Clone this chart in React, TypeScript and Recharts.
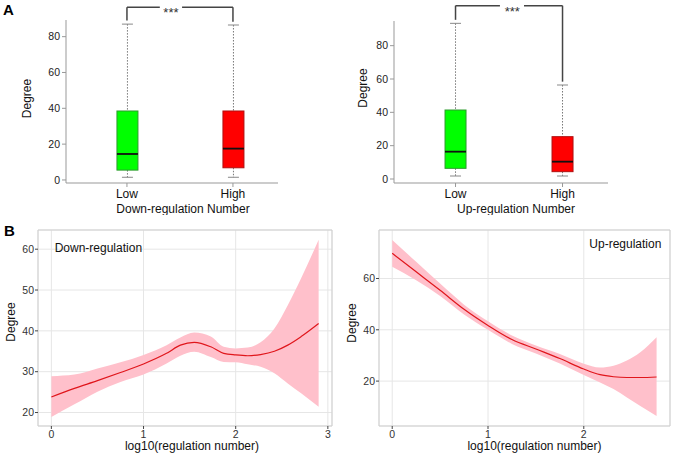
import React from "react";
import {
    ComposedChart,
    Bar,
    Line,
    Area,
    XAxis,
    YAxis,
    CartesianGrid,
    ReferenceLine,
    ReferenceDot,
} from "recharts";

const FONT = '"Liberation Sans", Arial, Helvetica, sans-serif';

// ---- Panel A: box plots ----
const boxGroups = ["Low", "High"];
const boxPositions = [1, 2];

const downMin = [1.5, 1.5];
const downQ1 = [5.5, 6.8];
const downMedian = [14.5, 17.5];
const downQ3 = [38.5, 38.5];
const downMax = [87, 86.5];

const upMin = [1.8, 1.8];
const upQ1 = [6.4, 4.4];
const upMedian = [16.4, 10.4];
const upQ3 = [41.4, 25.4];
const upMax = [93.4, 56.4];

const boxFills = ["#00ff00", "#ff0000"];
const boxStrokes = ["#2e9b2e", "#b01010"];

// significance brackets (value units)
const downBracket = { top: 96.4, leftEnd: 89, rightEnd: 88.3, gapFrom: 1.31, gapTo: 1.52, star: 1.415 };
const upBracket = { top: 104, leftEnd: 95.5, rightEnd: 58.4, gapFrom: 1.415, gapTo: 1.64, star: 1.53 };

// ---- Panel B: smoothed fits ----
const downX = [0, 0.25, 0.5, 0.75, 1, 1.25, 1.4, 1.55, 1.73, 1.87, 2, 2.13, 2.27, 2.42, 2.565, 2.71, 2.9];
const downFit = [23.8, 25.9, 27.8, 29.8, 31.9, 34.5, 36.5, 37.2, 36.1, 34.5, 34.1, 33.9, 34.2, 35.0, 36.5, 38.6, 41.8];
const downUpper = [28.9, 29.3, 30.8, 32.3, 34.1, 36.5, 38.4, 39.6, 38.6, 36.1, 35.7, 35.9, 37.2, 40.6, 46.3, 52.9, 62.3];
const downLower = [18.9, 22.0, 25.1, 27.5, 29.3, 32.0, 33.9, 34.9, 33.6, 32.4, 32.3, 31.8, 31.2, 29.6, 27.1, 24.7, 21.4];

const upX = [0, 0.25, 0.5, 0.75, 1, 1.25, 1.5, 1.75, 2, 2.17, 2.31, 2.45, 2.59, 2.76];
const upFit = [69.8, 62.6, 55.4, 48.0, 41.7, 36.2, 32.5, 28.8, 24.7, 22.5, 21.7, 21.4, 21.4, 21.6];
const upUpper = [75.0, 66.5, 58.0, 49.8, 43.3, 37.8, 33.9, 30.6, 26.8, 25.3, 26.0, 28.0, 31.2, 37.1];
const upLower = [64.6, 59.3, 53.2, 46.0, 40.0, 34.5, 30.8, 26.9, 22.4, 19.5, 16.9, 13.6, 10.3, 6.4];

const makeBoxRows = (mins: number[], q1s: number[], meds: number[], q3s: number[], maxs: number[]) =>
    boxGroups.map((name, i) => ({
        name,
        pos: boxPositions[i],
        min: mins[i],
        q1: q1s[i],
        median: meds[i],
        q3: q3s[i],
        max: maxs[i],
        fill: boxFills[i],
        stroke: boxStrokes[i],
    }));

const downBoxRows = makeBoxRows(downMin, downQ1, downMedian, downQ3, downMax);
const upBoxRows = makeBoxRows(upMin, upQ1, upMedian, upQ3, upMax);

const makeFitRows = (xs: number[], fit: number[], lo: number[], hi: number[]) =>
    xs.map((x, i) => ({ x, fit: fit[i], band: [lo[i], hi[i]] }));

const downFitRows = makeFitRows(downX, downFit, downLower, downUpper);
const upFitRows = makeFitRows(upX, upFit, upLower, upUpper);

// whole box drawn inside the [min, max] range bar, positions interpolated from its geometry
const BoxShape = (props: any) => {
    const { x, y, width, height, payload } = props;
    if (x == null || y == null) return null;
    const top = Math.min(y, y + height);
    const bottom = Math.max(y, y + height);
    const span = payload.max - payload.min;
    const toY = (v: number) => bottom - ((v - payload.min) / span) * (bottom - top);
    const cx = x + width / 2;
    const capHalf = 5.5;
    return (
        <g>
            <line x1={cx} x2={cx} y1={toY(payload.max)} y2={toY(payload.q3)} stroke="#777" strokeDasharray="1.5 1.5" />
            <line x1={cx} x2={cx} y1={toY(payload.q1)} y2={toY(payload.min)} stroke="#777" strokeDasharray="1.5 1.5" />
            <line x1={cx - capHalf} x2={cx + capHalf} y1={toY(payload.max)} y2={toY(payload.max)} stroke="#888" />
            <line x1={cx - capHalf} x2={cx + capHalf} y1={toY(payload.min)} y2={toY(payload.min)} stroke="#888" />
            <rect
                x={x}
                y={toY(payload.q3)}
                width={width}
                height={toY(payload.q1) - toY(payload.q3)}
                fill={payload.fill}
                stroke={payload.stroke}
                strokeWidth={1}
            />
            <line x1={x} x2={x + width} y1={toY(payload.median)} y2={toY(payload.median)} stroke="#111" strokeWidth={1.8} />
        </g>
    );
};

const xTitle = (text: string, dx: number, dy: number, size = 12) => (props: any) => {
    const vb = props.viewBox || {};
    return (
        <text x={vb.x + vb.width / 2 + dx} y={vb.y + dy} textAnchor="middle" fontSize={size} fill="#111">
            {text}
        </text>
    );
};

const yTitle = (text: string, cx: number, dy: number, size = 12) => (props: any) => {
    const vb = props.viewBox || {};
    const cy = vb.y + vb.height / 2 + dy;
    return (
        <text
            x={vb.x + cx}
            y={cy}
            textAnchor="middle"
            dominantBaseline="central"
            fontSize={size}
            fill="#111"
            transform={`rotate(-90 ${vb.x + cx} ${cy})`}
        >
            {text}
        </text>
    );
};

const starLabel = (props: any) => {
    const vb = props.viewBox || {};
    return (
        <text x={vb.x + (vb.width || 0) / 2} y={vb.y + 10} textAnchor="middle" fontSize={13} fill="#333">
            ***
        </text>
    );
};

const noteLabel = (text: string, anchor: "start" | "end") => (props: any) => {
    const vb = props.viewBox || {};
    return (
        <text x={vb.x} y={vb.y} textAnchor={anchor} dominantBaseline="central" fontSize={12} fill="#111">
            {text}
        </text>
    );
};

interface BoxPanelProps {
    rows: any[];
    width: number;
    yWidth: number;
    top: number;
    right: number;
    yDomain: [number, number];
    bracket: typeof downBracket;
    title: string;
    titleDx: number;
    yTitleX: number;
    yTitleDy: number;
}

const BoxPanel = ({ rows, width, yWidth, top, right, yDomain, bracket, title, titleDx, yTitleX, yTitleDy }: BoxPanelProps) => {
    const seg = { stroke: "#444", strokeWidth: 1.5, ifOverflow: "visible" as const };
    return (
        <ComposedChart width={width} height={215} data={rows} margin={{ top, right, left: 0, bottom: 0 }}>
            <XAxis
                dataKey="pos"
                type="number"
                domain={[0.425, 2.425]}
                allowDataOverflow
                ticks={boxPositions}
                tickFormatter={(v: number) => boxGroups[boxPositions.indexOf(v)] ?? ""}
                height={32}
                stroke="#999"
                tickSize={4}
                tick={{ fontSize: 12, fill: "#111" }}
                label={xTitle(title, titleDx, 30)}
            />
            <YAxis
                type="number"
                domain={yDomain}
                allowDataOverflow
                ticks={[0, 20, 40, 60, 80]}
                width={yWidth}
                stroke="#999"
                tickSize={4}
                tick={{ fontSize: 10.5, fill: "#222" }}
                label={yTitle("Degree", yTitleX, yTitleDy)}
            />
            <Bar
                dataKey={(d: any) => [d.min, d.max]}
                barSize={21}
                shape={(p: any) => <BoxShape {...p} />}
                isAnimationActive={false}
            />
            <ReferenceLine segment={[{ x: 1, y: bracket.leftEnd }, { x: 1, y: bracket.top }]} {...seg} />
            <ReferenceLine segment={[{ x: 1, y: bracket.top }, { x: bracket.gapFrom, y: bracket.top }]} {...seg} />
            <ReferenceLine segment={[{ x: bracket.gapTo, y: bracket.top }, { x: 2, y: bracket.top }]} {...seg} />
            <ReferenceLine segment={[{ x: 2, y: bracket.top }, { x: 2, y: bracket.rightEnd }]} {...seg} />
            <ReferenceDot x={bracket.star} y={bracket.top} r={0} fill="none" stroke="none" ifOverflow="visible" label={starLabel} />
        </ComposedChart>
    );
};

interface FitPanelProps {
    rows: any[];
    width: number;
    yWidth: number;
    right: number;
    xDomain: [number, number];
    xTicks: number[];
    xMinor: number[];
    yDomain: [number, number];
    yTicks: number[];
    yMinor: number[];
    note: string;
    noteAt: { x: number; y: number };
    noteAnchor: "start" | "end";
    titleDx: number;
    yTitleX: number;
    yTitleDy: number;
}

const FitPanel = (p: FitPanelProps) => (
    <ComposedChart width={p.width} height={242} data={p.rows} margin={{ top: 15, right: p.right, left: 0, bottom: 0 }}>
        <CartesianGrid
            stroke="#f3f3f3"
            horizontalCoordinatesGenerator={(args: any) =>
                typeof args?.yAxis?.scale === "function" ? p.yMinor.map((v) => args.yAxis.scale(v)) : []
            }
            verticalCoordinatesGenerator={(args: any) =>
                typeof args?.xAxis?.scale === "function" ? p.xMinor.map((v) => args.xAxis.scale(v)) : []
            }
        />
        <CartesianGrid stroke="#e6e6e6" />
        <XAxis
            dataKey="x"
            type="number"
            domain={p.xDomain}
            allowDataOverflow
            ticks={p.xTicks}
            height={31}
            axisLine={false}
            tickLine={{ stroke: "#444" }}
            tickSize={3}
            tick={{ fontSize: 10.5, fill: "#333" }}
            label={xTitle("log10(regulation number)", p.titleDx, 24)}
        />
        <YAxis
            type="number"
            domain={p.yDomain}
            allowDataOverflow
            ticks={p.yTicks}
            width={p.yWidth}
            axisLine={false}
            tickLine={{ stroke: "#444" }}
            tickSize={3}
            tickMargin={1}
            tick={{ fontSize: 10.5, fill: "#333" }}
            label={yTitle("Degree", p.yTitleX, p.yTitleDy)}
        />
        <Area
            dataKey="band"
            type="monotone"
            fill="#ffc0cb"
            fillOpacity={1}
            stroke="none"
            dot={false}
            activeDot={false}
            isAnimationActive={false}
        />
        <Line
            dataKey="fit"
            type="monotone"
            stroke="#e0161c"
            strokeWidth={1.2}
            dot={false}
            activeDot={false}
            isAnimationActive={false}
        />
        <ReferenceLine segment={[{ x: p.xDomain[0], y: p.yDomain[1] }, { x: p.xDomain[1], y: p.yDomain[1] }]} stroke="#cfcfcf" />
        <ReferenceLine segment={[{ x: p.xDomain[0], y: p.yDomain[0] }, { x: p.xDomain[1], y: p.yDomain[0] }]} stroke="#cfcfcf" />
        <ReferenceLine segment={[{ x: p.xDomain[0], y: p.yDomain[0] }, { x: p.xDomain[0], y: p.yDomain[1] }]} stroke="#cfcfcf" />
        <ReferenceLine segment={[{ x: p.xDomain[1], y: p.yDomain[0] }, { x: p.xDomain[1], y: p.yDomain[1] }]} stroke="#cfcfcf" />
        <ReferenceDot
            x={p.noteAt.x}
            y={p.noteAt.y}
            r={0}
            fill="none"
            stroke="none"
            label={noteLabel(p.note, p.noteAnchor)}
        />
    </ComposedChart>
);

const App = () => (
    <div style={{ position: "absolute", left: 0, top: 0, width: 673, height: 457, background: "#fff", fontFamily: FONT }}>
        <div style={{ position: "absolute", left: 0, top: 0 }}>
            <BoxPanel
                rows={downBoxRows}
                width={340}
                yWidth={66}
                top={20}
                right={62}
                yDomain={[-1.7, 89.3]}
                bracket={downBracket}
                title="Down-regulation Number"
                titleDx={11}
                yTitleX={27}
                yTitleDy={-3}
            />
        </div>
        <div style={{ position: "absolute", left: 340, top: 0 }}>
            <BoxPanel
                rows={upBoxRows}
                width={333}
                yWidth={54}
                top={21}
                right={65}
                yDomain={[-2.4, 94.8]}
                bracket={upBracket}
                title="Up-regulation Number"
                titleDx={15}
                yTitleX={22.7}
                yTitleDy={-14}
            />
        </div>
        <div style={{ position: "absolute", left: 0, top: 215 }}>
            <FitPanel
                rows={downFitRows}
                width={340}
                yWidth={38}
                right={8}
                xDomain={[-0.145, 3.045]}
                xTicks={[0, 1, 2, 3]}
                xMinor={[0.5, 1.5, 2.5]}
                yDomain={[16.7, 64.7]}
                yTicks={[20, 30, 40, 50, 60]}
                yMinor={[25, 35, 45, 55]}
                note="Down-regulation"
                noteAt={{ x: 0.036, y: 60.3 }}
                noteAnchor="start"
                titleDx={7}
                yTitleX={11}
                yTitleDy={-6}
            />
        </div>
        <div style={{ position: "absolute", left: 340, top: 215 }}>
            <FitPanel
                rows={upFitRows}
                width={333}
                yWidth={39}
                right={3}
                xDomain={[-0.138, 2.9]}
                xTicks={[0, 1, 2]}
                xMinor={[0.5, 1.5, 2.5]}
                yDomain={[2.5, 78.9]}
                yTicks={[20, 40, 60]}
                yMinor={[10, 30, 50, 70]}
                note="Up-regulation"
                noteAt={{ x: 2.81, y: 73.5 }}
                noteAnchor="end"
                titleDx={10}
                yTitleX={12}
                yTitleDy={-5}
            />
        </div>
        <div style={{ position: "absolute", left: 3, top: 2, fontSize: 15, fontWeight: "bold", lineHeight: "16px" }}>A</div>
        <div style={{ position: "absolute", left: 4, top: 223, fontSize: 15, fontWeight: "bold", lineHeight: "16px" }}>B</div>
    </div>
);

export default App;
